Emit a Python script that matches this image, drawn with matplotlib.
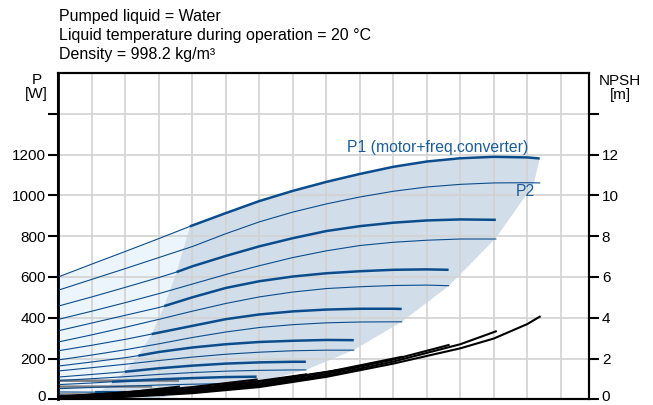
import numpy as np
import matplotlib.pyplot as plt
import matplotlib.transforms as mtransforms

plt.rcParams['font.family'] = ['Liberation Sans', 'DejaVu Sans']

# ---- data (x in grid columns, P in W, NPSH in m) ----
header_lines = [
    "Pumped liquid = Water",
    "Liquid temperature during operation = 20 \u00b0C",
    "Density = 998.2 kg/m\u00b3",
]

# P1 curves (motor+freq.converter), one per speed; thick part starts at thick_from
p1_curves = [
    ([0, 1, 2, 3, 3.93, 5, 6, 7, 8, 9, 10, 11, 12, 13, 14, 14.37],
     [600, 663, 725, 788, 848, 913, 972, 1022, 1066, 1105, 1140, 1166, 1182, 1189, 1186, 1181]),
    ([0, 1, 2, 3, 3.53, 4, 5, 6, 7, 8, 9, 10, 11, 12, 13.06],
     [457, 502, 549, 597, 624, 652, 703, 750, 790, 825, 849, 866, 877, 882, 880]),
    ([0, 1, 2, 3, 3.16, 4, 5, 6, 7, 8, 9, 10, 11, 11.65],
     [336, 374, 412, 450, 457, 500, 546, 579, 602, 618, 628, 635, 637, 635]),
    ([0, 1, 2, 2.79, 4, 5, 6, 7, 8, 9, 10, 10.25],
     [238, 265, 294, 320, 360, 393, 416, 431, 440, 444, 444, 443]),
    ([0, 1, 2, 2.39, 3, 4, 5, 6, 7, 8, 8.82],
     [163, 183, 204, 214, 232, 254, 270, 281, 287, 291, 290]),
    ([0, 1, 1.99, 3, 4, 5, 6, 7, 7.39],
     [109, 122, 135, 152, 165, 175, 181, 184, 184]),
    ([0, 1, 1.6, 3, 4, 5, 5.92],
     [72, 80, 86, 98, 104, 109, 111]),
    ([0, 1.1, 2, 3.16],
     [36, 35, 35, 34]),
]
p1_thick_from = [3.93, 3.53, 3.16, 2.79, 2.39, 1.99, 1.6, 1.1]

# P2 curves (shaft power)
p2_curves = [
    ([0, 1, 2, 3, 4, 5, 6, 7, 8, 9, 10, 11, 12, 13, 14, 14.37],
     [535, 588, 641, 695, 749, 812, 870, 918, 958, 992, 1020, 1041, 1054, 1061, 1062, 1061]),
    ([0, 1, 2, 3, 4, 5, 6, 7, 8, 9, 10, 11, 12, 13.06],
     [392, 432, 474, 518, 565, 612, 655, 695, 728, 754, 770, 780, 786, 786]),
    ([0, 1, 2, 3, 4, 5, 6, 7, 8, 9, 10, 11, 11.65],
     [281, 316, 353, 392, 432, 470, 502, 526, 543, 552, 558, 560, 557]),
    ([0, 1, 2, 3, 4, 5, 6, 7, 8, 9, 10, 10.25],
     [193, 217, 243, 272, 303, 330, 352, 366, 375, 379, 380, 380]),
    ([0, 1, 2, 3, 4, 5, 6, 7, 8, 8.82],
     [139, 155, 172, 190, 207, 221, 231, 238, 241, 241]),
    ([0, 1, 2, 3, 4, 5, 6, 7, 7.39],
     [92, 101, 111, 122, 131, 138, 142, 144, 144]),
    ([0, 1, 2, 3, 4, 5, 5.92],
     [52, 58, 64, 70, 74, 77, 79]),
    ([0, 1, 2, 3.16],
     [20, 19, 19, 18]),
]

# flat grey low-speed lines
grey_curves = [
    ([0, 3.6], [91, 92]),
    ([0, 2.8], [62, 63]),
    ([0, 2.3], [25, 25]),
    ([0, 1.1], [10, 10]),
]

# NPSH curves
npsh_curves = [
    ([0, 2, 4, 6, 8, 10, 12, 13, 14, 14.37], [0.0, 0.12, 0.3, 0.6, 1.1, 1.75, 2.5, 2.98, 3.69, 4.05]),
    ([0, 2, 4, 6, 8, 10, 12, 13.06], [0.02, 0.14, 0.33, 0.65, 1.16, 1.85, 2.7, 3.33]),
    ([0, 2, 4, 6, 8, 10, 11.65], [0.03, 0.16, 0.36, 0.7, 1.24, 1.95, 2.66]),
    ([0, 2, 4, 6, 8, 10.25], [0.04, 0.18, 0.4, 0.77, 1.33, 2.08]),
    ([0, 2, 4, 6, 8.82], [0.05, 0.2, 0.45, 0.86, 1.54]),
    ([0, 2, 4, 6, 7.39], [0.06, 0.23, 0.52, 0.9, 1.22]),
    ([0, 2, 4, 5.92], [0.08, 0.28, 0.6, 0.97]),
    ([0, 2, 3.6], [0.1, 0.33, 0.62]),
    ([0, 1.5, 2.8], [0.12, 0.28, 0.45]),
    ([0, 1.1, 2.0], [0.14, 0.24, 0.32]),
]

# shaded area boundaries
left_edge_x = [0.9, 1.2, 1.6, 1.99, 2.39, 2.79, 3.16, 3.53, 3.93]
left_edge_y = [0, 30, 80, 135, 214, 320, 457, 624, 848]
right_edge_x = [14.37, 14.2, 14.0, 13.06, 11.65, 10.25, 8.82, 7.39, 5.92, 4.5, 3.2, 2.5]
right_edge_y = [1181, 1062, 1010, 790, 555, 380, 242, 144, 81, 40, 12, 0]

p_ticks = [0, 200, 400, 600, 800, 1000, 1200, 1400]
p_labels = ['0', '200', '400', '600', '800', '1000', '1200', '']
npsh_ticks = [0, 2, 4, 6, 8, 10, 12, 14]
npsh_labels = ['0', '2', '4', '6', '8', '10', '12', '']

blue = '#0b4d8c'
label_blue = '#1c5d9a'

fig = plt.figure(figsize=(6.53, 4.05), dpi=100)
ax = fig.add_axes([58.3 / 653, 1 - 399.3 / 405, 531 / 653, 326.3 / 405])
ax.set_xlim(0, 15.85)
ax.set_ylim(0, 1600)

# light and dark regions
top_x, top_y = p1_curves[0]
light_x = [0, 0] + [x for x in top_x if x <= 3.93] + left_edge_x[::-1]
light_y = [0, 600] + [y for x, y in zip(top_x, top_y) if x <= 3.93] + left_edge_y[::-1]
ax.fill(light_x, light_y, color='#ecf4fc', lw=0, zorder=1)

dark_x = left_edge_x + [x for x in top_x if x > 3.93] + right_edge_x
dark_y = left_edge_y + [y for x, y in zip(top_x, top_y) if x > 3.93] + right_edge_y
ax.fill(dark_x, dark_y, color='#d1dde9', lw=0, zorder=1)

# grid
ax.set_xticks(np.arange(1, 16))
ax.grid(True, color='#d2d2d2', lw=1.2)
ax.set_axisbelow('line')

for (xs, ys) in grey_curves:
    ax.plot(xs, ys, color='#7f7f7f', lw=1.8, solid_capstyle='butt', zorder=2)

for (xs, ys) in p2_curves:
    ax.plot(xs, ys, color=blue, lw=0.8, zorder=3)

for (xs, ys), xb in zip(p1_curves, p1_thick_from):
    thin = [(x, y) for x, y in zip(xs, ys) if x <= xb]
    thick = [(x, y) for x, y in zip(xs, ys) if x >= xb]
    ax.plot(*zip(*thin), color=blue, lw=0.8, zorder=3)
    ax.plot(*zip(*thick), color=blue, lw=1.8, solid_capstyle='butt', zorder=3)

ax.text(8.62, 1235, 'P1 (motor+freq.converter)', color=label_blue, fontsize=11.3, va='center')
ax.text(13.65, 1020, 'P2', color=label_blue, fontsize=11.3, va='center')

# NPSH axis
ax2 = ax.twinx()
ax2.set_ylim(0, 16)
for (xs, ys) in npsh_curves:
    ax2.plot(xs, ys, color='black', lw=1.5, zorder=4)

ax.tick_params(axis='x', length=0, labelbottom=False)
ax.set_yticks(p_ticks)
ax.set_yticklabels(p_labels)
ax.tick_params(axis='y', direction='out', length=7, width=1.5, pad=2, labelsize=11)
ax2.set_yticks(npsh_ticks)
ax2.set_yticklabels(npsh_labels)
ax2.tick_params(axis='y', direction='out', length=7, width=1.5, pad=2, labelsize=11)

# the two "0" labels sit a little above the bottom edge, as in the reference
shift_up = mtransforms.ScaledTranslation(0, 2.5 / 72, fig.dpi_scale_trans)
for lbl in (ax.get_yticklabels()[0], ax2.get_yticklabels()[0]):
    lbl.set_transform(lbl.get_transform() + shift_up)

for a in (ax, ax2):
    for s in a.spines.values():
        s.set_linewidth(1.5)
ax.spines['left'].set_linewidth(2.0)

# header and axis titles
for i, line in enumerate(header_lines):
    fig.text(59.3 / 653, 1 - (20.7 + 19.3 * i) / 405, line, fontsize=11.5, va='baseline', ha='left')

fig.text(36.5 / 653, 1 - 84 / 405, 'P', fontsize=11, ha='center', va='baseline')
fig.text(36.5 / 653, 1 - 98 / 405, '[W]', fontsize=11, ha='center', va='baseline')
fig.text(620 / 653, 1 - 85 / 405, 'NPSH', fontsize=11, ha='center', va='baseline')
fig.text(620 / 653, 1 - 99 / 405, '[m]', fontsize=11, ha='center', va='baseline')

fig.savefig('out.png', dpi=100)
